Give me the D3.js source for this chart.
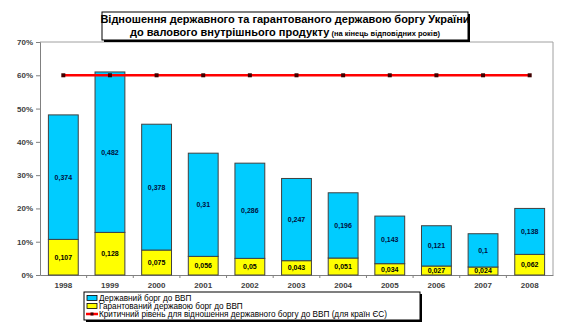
<!DOCTYPE html>
<html>
<head>
<meta charset="utf-8">
<script src="https://cdn.jsdelivr.net/npm/d3@7/dist/d3.min.js"></script>
<style>
  html, body { margin: 0; padding: 0; background: #fff; }
  svg { display: block; font-family: "Liberation Sans", Arial, sans-serif; }
</style>
</head>
<body>
<svg id="chart" width="562" height="326"></svg>
<script>
// Debt-to-GDP ratios of Ukraine, end of year
const years = ["1998", "1999", "2000", "2001", "2002", "2003", "2004", "2005", "2006", "2007", "2008"];
const stateDebt = [0.374, 0.482, 0.378, 0.31, 0.286, 0.247, 0.196, 0.143, 0.121, 0.1, 0.138];
const guaranteedDebt = [0.107, 0.128, 0.075, 0.056, 0.05, 0.043, 0.051, 0.034, 0.027, 0.024, 0.062];
const criticalLevel = [0.6, 0.6, 0.6, 0.6, 0.6, 0.6, 0.6, 0.6, 0.6, 0.6, 0.6];
const yTicks = [0, 0.1, 0.2, 0.3, 0.4, 0.5, 0.6, 0.7];

const titleLine1 = "Відношення державного та гарантованого державою боргу України";
const titleLine2 = "до валового внутрішнього продукту";
const titleNote = " (на кінець відповідних років)";
const legendItems = [
  "Державний борг до ВВП",
  "Гарантований державою борг до ВВП",
  "Критичний рівень для відношення державного боргу до ВВП (для країн ЄС)"
];

const svg = d3.select("#chart");
const plot = { left: 40, right: 553, top: 42, bottom: 275 };

const x = d3.scaleBand().domain(years).range([plot.left, plot.right]).paddingInner(0.36).paddingOuter(0.18);
const xStep = d3.scaleBand().domain(years).range([plot.left, plot.right]);
const y = d3.scaleLinear().domain([0, 0.7]).range([plot.bottom, plot.top]);

// plot frame (top and right sides)
svg.append("path")
  .attr("d", `M${plot.left},${plot.top}H${plot.right}V${plot.bottom}`)
  .attr("fill", "none").attr("stroke", "#a0a0a0").attr("stroke-width", 1);

// y axis
const yAxis = svg.append("g").attr("transform", `translate(${plot.left},0)`)
  .call(d3.axisLeft(y).tickValues(yTicks).tickSize(4).tickFormat(d3.format(".0%")));
yAxis.select(".domain").attr("stroke", "#808080");
yAxis.selectAll(".tick line").attr("stroke", "#808080");
yAxis.selectAll(".tick text").attr("font-size", 8).attr("font-weight", "bold").attr("fill", "#404040").attr("x", -7);

// x axis with ticks between categories
const xAxis = svg.append("g").attr("transform", `translate(0,${plot.bottom})`)
  .call(d3.axisBottom(x).tickSize(0).tickSizeOuter(0));
xAxis.select(".domain").attr("stroke", "#808080");
xAxis.selectAll(".tick text").attr("font-size", 8).attr("font-weight", "bold").attr("fill", "#404040").attr("dy", "1.2em");
xAxis.selectAll(".sep").data(years.slice(1)).enter().append("line")
  .attr("class", "sep")
  .attr("x1", d => xStep(d)).attr("x2", d => xStep(d))
  .attr("y1", 0).attr("y2", 3).attr("stroke", "#808080");

// stacked bars
const fmt = v => String(v).replace(".", ",");
const bars = svg.append("g");
years.forEach((yr, i) => {
  const g0 = guaranteedDebt[i], s = stateDebt[i];
  bars.append("rect")
    .attr("x", x(yr)).attr("width", x.bandwidth())
    .attr("y", y(g0)).attr("height", y(0) - y(g0))
    .attr("fill", "#ffff00").attr("stroke", "#404040").attr("stroke-width", 1);
  bars.append("rect")
    .attr("x", x(yr)).attr("width", x.bandwidth())
    .attr("y", y(g0 + s)).attr("height", y(g0) - y(g0 + s))
    .attr("fill", "#00ccff").attr("stroke", "#404040").attr("stroke-width", 1);
  bars.append("text")
    .attr("x", x(yr) + x.bandwidth() / 2).attr("y", y(g0 + s / 2)).attr("dy", "0.35em")
    .attr("text-anchor", "middle").attr("font-size", 7).attr("font-weight", "bold").attr("fill", "#001040")
    .text(fmt(s));
  bars.append("text")
    .attr("x", x(yr) + x.bandwidth() / 2).attr("y", y(g0 / 2)).attr("dy", "0.35em")
    .attr("text-anchor", "middle").attr("font-size", 7).attr("font-weight", "bold").attr("fill", "#000")
    .text(fmt(g0));
});

// critical level line
const cx = d => x(d) + x.bandwidth() / 2;
svg.append("path")
  .datum(years.map((yr, i) => [cx(yr), y(criticalLevel[i])]))
  .attr("d", d3.line())
  .attr("fill", "none").attr("stroke", "#ff0000").attr("stroke-width", 2.5);
svg.append("g").selectAll("rect").data(years).enter().append("rect")
  .attr("x", d => cx(d) - 2).attr("y", (d, i) => y(criticalLevel[i]) - 2)
  .attr("width", 4).attr("height", 4).attr("fill", "#400000");

// title box with shadow
const tb = { x: 102, y: 12, w: 366, h: 28 };
svg.append("rect").attr("x", tb.x + 2).attr("y", tb.y + 2).attr("width", tb.w).attr("height", tb.h).attr("fill", "#000");
svg.append("rect").attr("x", tb.x).attr("y", tb.y).attr("width", tb.w).attr("height", tb.h)
  .attr("fill", "#fff").attr("stroke", "#000").attr("stroke-width", 1);
svg.append("text").attr("x", tb.x + tb.w / 2).attr("y", tb.y + 11)
  .attr("text-anchor", "middle").attr("font-size", 11).attr("font-weight", "bold").attr("fill", "#000")
  .text(titleLine1);
const t2 = svg.append("text").attr("x", tb.x + tb.w / 2).attr("y", tb.y + 24)
  .attr("text-anchor", "middle").attr("font-weight", "bold").attr("fill", "#000");
t2.append("tspan").attr("font-size", 11).text(titleLine2);
t2.append("tspan").attr("font-size", 7.5).text(titleNote);

// legend box with shadow
const lb = { x: 84, y: 292, w: 336, h: 28 };
svg.append("rect").attr("x", lb.x + 2).attr("y", lb.y + 2).attr("width", lb.w).attr("height", lb.h).attr("fill", "#000");
svg.append("rect").attr("x", lb.x).attr("y", lb.y).attr("width", lb.w).attr("height", lb.h)
  .attr("fill", "#fff").attr("stroke", "#000").attr("stroke-width", 1);
const swatchColors = ["#00ccff", "#ffff00"];
legendItems.forEach((label, i) => {
  const ly = lb.y + 6 + i * 8;
  if (i < 2) {
    svg.append("rect").attr("x", lb.x + 3).attr("y", ly - 2.5).attr("width", 10).attr("height", 5)
      .attr("fill", swatchColors[i]).attr("stroke", "#000").attr("stroke-width", 0.8);
  } else {
    svg.append("line").attr("x1", lb.x + 2).attr("x2", lb.x + 14).attr("y1", ly).attr("y2", ly)
      .attr("stroke", "#ff0000").attr("stroke-width", 2.5);
    svg.append("rect").attr("x", lb.x + 6.5).attr("y", ly - 1.5).attr("width", 3).attr("height", 3).attr("fill", "#400000");
  }
  svg.append("text").attr("x", lb.x + 15).attr("y", ly).attr("dy", "0.34em")
    .attr("font-size", 8.2).attr("fill", "#000").text(label);
});
</script>
</body>
</html>
